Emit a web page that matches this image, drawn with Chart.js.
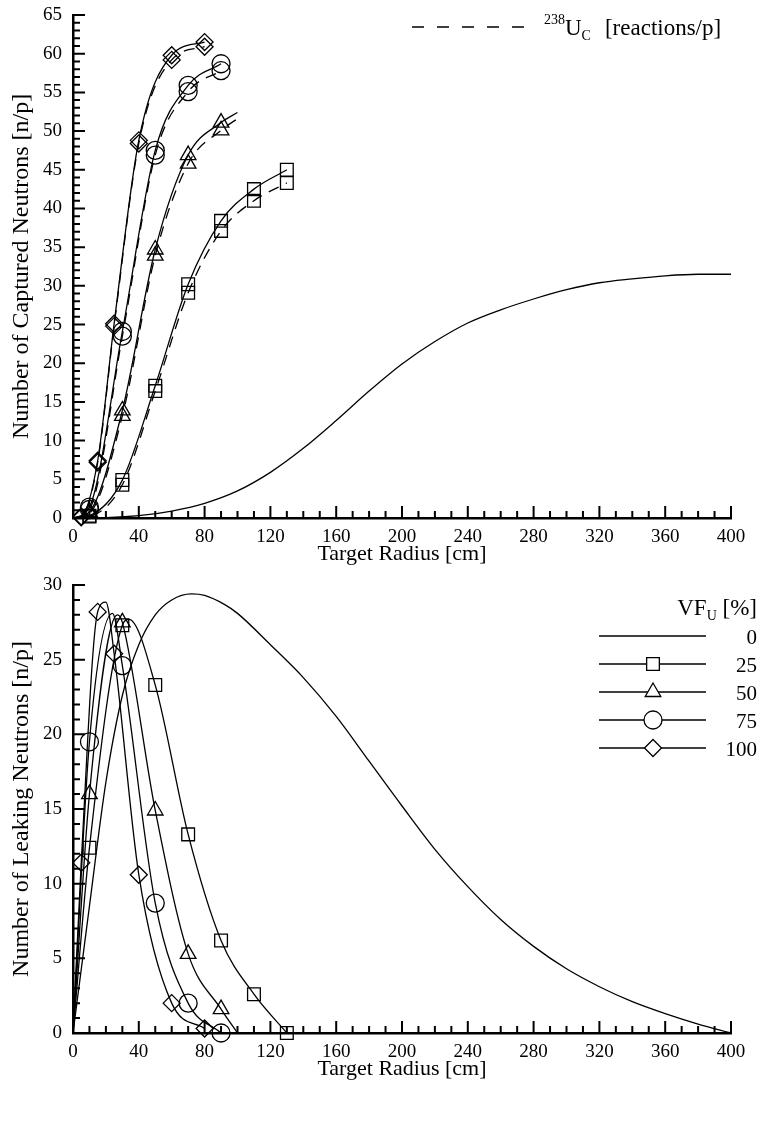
<!DOCTYPE html>
<html>
<head>
<meta charset="utf-8">
<script src="https://cdn.jsdelivr.net/npm/chart.js@4.4.0/dist/chart.umd.min.js"></script>
<style>
  html, body { margin: 0; padding: 0; background: #fff; }
  body { width: 760px; height: 1144px; position: relative; overflow: hidden; }
  canvas { position: absolute; left: 0; }
  #captured { top: 0; }
  #leaking { top: 565px; }
</style>
</head>
<body>
<canvas id="captured" width="760" height="565"></canvas>
<canvas id="leaking" width="760" height="515"></canvas>
<script>
// target radii [cm] of the simulated points, per uranium volume fraction
const rDia = [5, 15, 25, 40, 60, 80];        // VF_U 100 %
const rCir = [10, 30, 50, 70, 90];           // 75 %
const rTri = [10, 30, 50, 70, 90];           // 50 %
const rSq = [10, 30, 50, 70, 90, 110, 130];  // 25 %

// captured neutrons [n/p]
const capDia = [0.2, 7.4, 25.1, 48.8, 59.8, 61.5];
const capCir = [1.4, 24.1, 47.5, 55.9, 58.7];
const capTri = [0.8, 13.9, 34.7, 46.9, 51.1];
const capSq = [0.3, 4.9, 17.1, 30.2, 38.4, 42.5, 45.0];

// 238U capture reactions [reactions/p] (dashed)
const ucDia = [0.1, 7.2, 24.8, 48.4, 59.2, 60.9];
const ucCir = [1.1, 23.5, 46.9, 55.1, 57.8];
const ucTri = [0.6, 13.2, 33.9, 45.8, 50.1];
const ucSq = [0.2, 4.3, 16.4, 29.1, 37.1, 41.0, 43.3];

// leaking neutrons [n/p]
const leakDia = [11.4, 28.2, 25.4, 10.6, 2.0, 0.3];
const leakCir = [19.5, 24.6, 8.7, 2.0, 0.0];
const leakTri = [16.0, 27.5, 14.9, 5.3, 1.6];
const leakSq = [12.4, 27.3, 23.3, 13.3, 6.2, 2.6, 0.0];

// VF_U = 0 % curves (no markers)
const rCap0 = [0, 20, 40, 60, 80, 100, 120, 140, 160, 180, 200,
               220, 240, 260, 280, 300, 320, 340, 360, 380, 400];
const cap0 = [0, 0.05, 0.3, 0.9, 1.9, 3.5, 5.9, 9.0, 12.6, 16.4, 19.9,
              22.8, 25.2, 26.9, 28.3, 29.5, 30.4, 30.9, 31.3, 31.5, 31.5];
const rLeak0 = [0, 10, 20, 30, 40, 50, 60, 72, 80, 92, 100, 120, 140, 160, 180, 200,
                220, 240, 260, 280, 300, 320, 340, 360, 380, 400];
const leak0 = [0, 8.5, 16.8, 22.6, 26.0, 28.0, 29.0, 29.4, 29.3, 28.7, 28.1, 26.0, 23.8, 21.2, 18.2, 15.2,
               12.3, 9.8, 7.6, 5.8, 4.3, 3.1, 2.1, 1.3, 0.6, 0];

// peaks of the leakage fits (dia, cir, tri, sq) - the fits overshoot the points
const peakR = [20, 24, 27, 34];
const peakLeak = [28.85, 28.1, 28.0, 27.7];

// the 50 % fits run on past the last point
const triEndR = 100;
const triEndCap = 52.4;
const triEndUc = 51.6;
const triEndLeak = 0;

const serif = "'Liberation Serif', 'Times New Roman', serif";
const tickFont = { family: serif, size: 19 };
const xTitleFont = { family: serif, size: 22 };
const yTitleFont = { family: serif, size: 24 };

const pts = (xs, ys) => xs.map((x, i) => ({ x: x, y: ys[i] }));
const curve = (xs, ys, extra) =>
  [{ x: 0, y: 0 }].concat(pts(xs, ys), extra || []).sort((a, b) => a.x - b.x);

function line(data, dashed) {
  return {
    data: data,
    borderColor: '#000',
    borderWidth: 1.3,
    borderDash: dashed ? [11, 8] : [],
    pointRadius: 0,
    cubicInterpolationMode: 'monotone',
    showLine: true,
    fill: false
  };
}

function marks(data, style, r) {
  return {
    data: data,
    showLine: false,
    pointStyle: style,
    pointRadius: r,
    pointBorderColor: '#000',
    pointBackgroundColor: 'rgba(0,0,0,0)',
    pointBorderWidth: 1.3,
    clip: false
  };
}

// ticks point into the plot, majors labelled, minors every xMinor / yMinor
const inwardTicks = {
  id: 'inwardTicks',
  afterDatasetsDraw(chart) {
    const { ctx, chartArea: a, scales: { x, y } } = chart;
    const o = chart.options.plugins.inwardTicks;
    ctx.save();
    ctx.strokeStyle = '#000';
    ctx.lineWidth = 2;
    ctx.beginPath();
    for (let v = x.min; v <= x.max + 1e-6; v += o.xMinor) {
      const px = x.getPixelForValue(v);
      const len = Math.abs(v % o.xMajor) < 1e-6 ? 12 : 7;
      ctx.moveTo(px, a.bottom);
      ctx.lineTo(px, a.bottom - len);
    }
    for (let v = y.min; v <= y.max + 1e-6; v += o.yMinor) {
      const py = y.getPixelForValue(v);
      const len = Math.abs(v % o.yMajor) < 1e-6 ? 12 : 7;
      ctx.moveTo(a.left, py);
      ctx.lineTo(a.left + len, py);
    }
    ctx.stroke();
    ctx.restore();
  }
};

function axes(yMax, yTitle) {
  return {
    x: {
      type: 'linear', min: 0, max: 400,
      grid: { display: false, drawTicks: false },
      border: { display: true, color: '#000', width: 2.5 },
      ticks: { stepSize: 40, color: '#000', font: tickFont, padding: 8, maxRotation: 0 },
      title: { display: true, text: 'Target Radius [cm]', color: '#000', font: xTitleFont,
               padding: { top: 0, bottom: -2 } },
      afterFit: s => { s.height = 47; }
    },
    y: {
      type: 'linear', min: 0, max: yMax,
      grid: { display: false, drawTicks: false },
      border: { display: true, color: '#000', width: 2.5 },
      ticks: { stepSize: 5, color: '#000', font: tickFont, padding: 11 },
      title: { display: true, text: yTitle, color: '#000', font: yTitleFont,
               padding: { top: 7, bottom: 0 } },
      afterFit: s => { s.width = 73; s.paddingTop = 0; s.paddingBottom = 0; }
    }
  };
}

function drawMarker(ctx, style, r, x, y) {
  ctx.save();
  ctx.strokeStyle = '#000';
  ctx.fillStyle = '#fff';
  ctx.lineWidth = 1.3;
  Chart.helpers.drawPoint(ctx, { pointStyle: style, radius: r, rotation: 0, borderWidth: 1.3 }, x, y);
  ctx.restore();
}

// top legend: dashed line + 238U_C [reactions/p]
const capLegend = {
  id: 'capLegend',
  afterDraw(chart) {
    const ctx = chart.ctx;
    ctx.save();
    ctx.strokeStyle = '#000';
    ctx.lineWidth = 1.3;
    ctx.setLineDash([12, 13]);
    ctx.beginPath();
    ctx.moveTo(412, 27);
    ctx.lineTo(526, 27);
    ctx.stroke();
    ctx.setLineDash([]);
    ctx.fillStyle = '#000';
    ctx.textBaseline = 'alphabetic';
    let x = 544;
    ctx.font = '14px ' + serif;
    ctx.fillText('238', x, 24);
    x += ctx.measureText('238').width;
    ctx.font = '23px ' + serif;
    ctx.fillText('U', x, 35);
    x += ctx.measureText('U').width;
    ctx.font = '14px ' + serif;
    ctx.fillText('C', x, 40);
    x += ctx.measureText('C').width + 14;
    ctx.font = '23px ' + serif;
    ctx.fillText('[reactions/p]', x, 35);
    ctx.restore();
  }
};

// bottom legend: VF_U [%] with line samples
const vfNames = ['0', '25', '50', '75', '100'];
const vfStyles = [null, 'rect', 'triangle', 'circle', 'rectRot'];
const vfRadius = [0, 9, 9, 9, 8.5];

const vfLegend = {
  id: 'vfLegend',
  afterDraw(chart) {
    const ctx = chart.ctx;
    const right = 757;
    ctx.save();
    ctx.fillStyle = '#000';
    ctx.textBaseline = 'alphabetic';
    // header, built right to left
    ctx.font = '23px ' + serif;
    const tail = ' [%]';
    const wTail = ctx.measureText(tail).width;
    ctx.textAlign = 'left';
    ctx.fillText(tail, right - wTail, 50);
    ctx.font = '14px ' + serif;
    const wSub = ctx.measureText('U').width;
    ctx.fillText('U', right - wTail - wSub, 55);
    ctx.font = '23px ' + serif;
    const wVF = ctx.measureText('VF').width;
    ctx.fillText('VF', right - wTail - wSub - wVF, 50);

    ctx.font = '21px ' + serif;
    ctx.textAlign = 'right';
    vfNames.forEach((name, i) => {
      const y = 71 + i * 28;
      ctx.strokeStyle = '#000';
      ctx.lineWidth = 1.3;
      ctx.beginPath();
      ctx.moveTo(599, y);
      ctx.lineTo(706, y);
      ctx.stroke();
      if (vfStyles[i]) drawMarker(ctx, vfStyles[i], vfRadius[i], 653, y);
      ctx.fillText(name, right, y + 8);
    });
    ctx.restore();
  }
};

const common = {
  responsive: false,
  animation: false,
  events: []
};

new Chart(document.getElementById('captured'), {
  type: 'scatter',
  data: {
    datasets: [
      line(pts(rCap0, cap0), false),
      line(curve(rSq, capSq), false),
      line(curve(rSq, ucSq), true),
      line(curve(rTri, capTri, [{ x: triEndR, y: triEndCap }]), false),
      line(curve(rTri, ucTri, [{ x: triEndR, y: triEndUc }]), true),
      line(curve(rCir, capCir), false),
      line(curve(rCir, ucCir), true),
      line(curve(rDia, capDia), false),
      line(curve(rDia, ucDia), true),
      marks(pts(rSq, capSq), 'rect', 9),
      marks(pts(rSq, ucSq), 'rect', 9),
      marks(pts(rTri, capTri), 'triangle', 9),
      marks(pts(rTri, ucTri), 'triangle', 9),
      marks(pts(rCir, capCir), 'circle', 9),
      marks(pts(rCir, ucCir), 'circle', 9),
      marks(pts(rDia, capDia), 'rectRot', 8.5),
      marks(pts(rDia, ucDia), 'rectRot', 8.5)
    ]
  },
  options: Object.assign({}, common, {
    layout: { padding: { left: 0, right: 29, top: 15, bottom: 0 } },
    scales: axes(65, 'Number of Captured Neutrons [n/p]'),
    plugins: {
      legend: { display: false },
      tooltip: { enabled: false },
      inwardTicks: { xMinor: 10, xMajor: 40, yMinor: 1, yMajor: 5 }
    }
  }),
  plugins: [inwardTicks, capLegend]
});

new Chart(document.getElementById('leaking'), {
  type: 'scatter',
  data: {
    datasets: [
      line(pts(rLeak0, leak0), false),
      line(curve(rSq, leakSq, [{ x: peakR[3], y: peakLeak[3] }]), false),
      line(curve(rTri, leakTri, [{ x: peakR[2], y: peakLeak[2] }, { x: triEndR, y: triEndLeak }]), false),
      line(curve(rCir, leakCir, [{ x: peakR[1], y: peakLeak[1] }]), false),
      line(curve(rDia, leakDia, [{ x: peakR[0], y: peakLeak[0] }]), false),
      marks(pts(rSq, leakSq), 'rect', 9),
      marks(pts(rTri, leakTri), 'triangle', 9),
      marks(pts(rCir, leakCir), 'circle', 9),
      marks(pts(rDia, leakDia), 'rectRot', 8.5)
    ]
  },
  options: Object.assign({}, common, {
    layout: { padding: { left: 0, right: 29, top: 20, bottom: 0 } },
    scales: axes(30, 'Number of Leaking Neutrons [n/p]'),
    plugins: {
      legend: { display: false },
      tooltip: { enabled: false },
      inwardTicks: { xMinor: 10, xMajor: 40, yMinor: 1, yMajor: 5 }
    }
  }),
  plugins: [inwardTicks, vfLegend]
});
</script>
</body>
</html>
